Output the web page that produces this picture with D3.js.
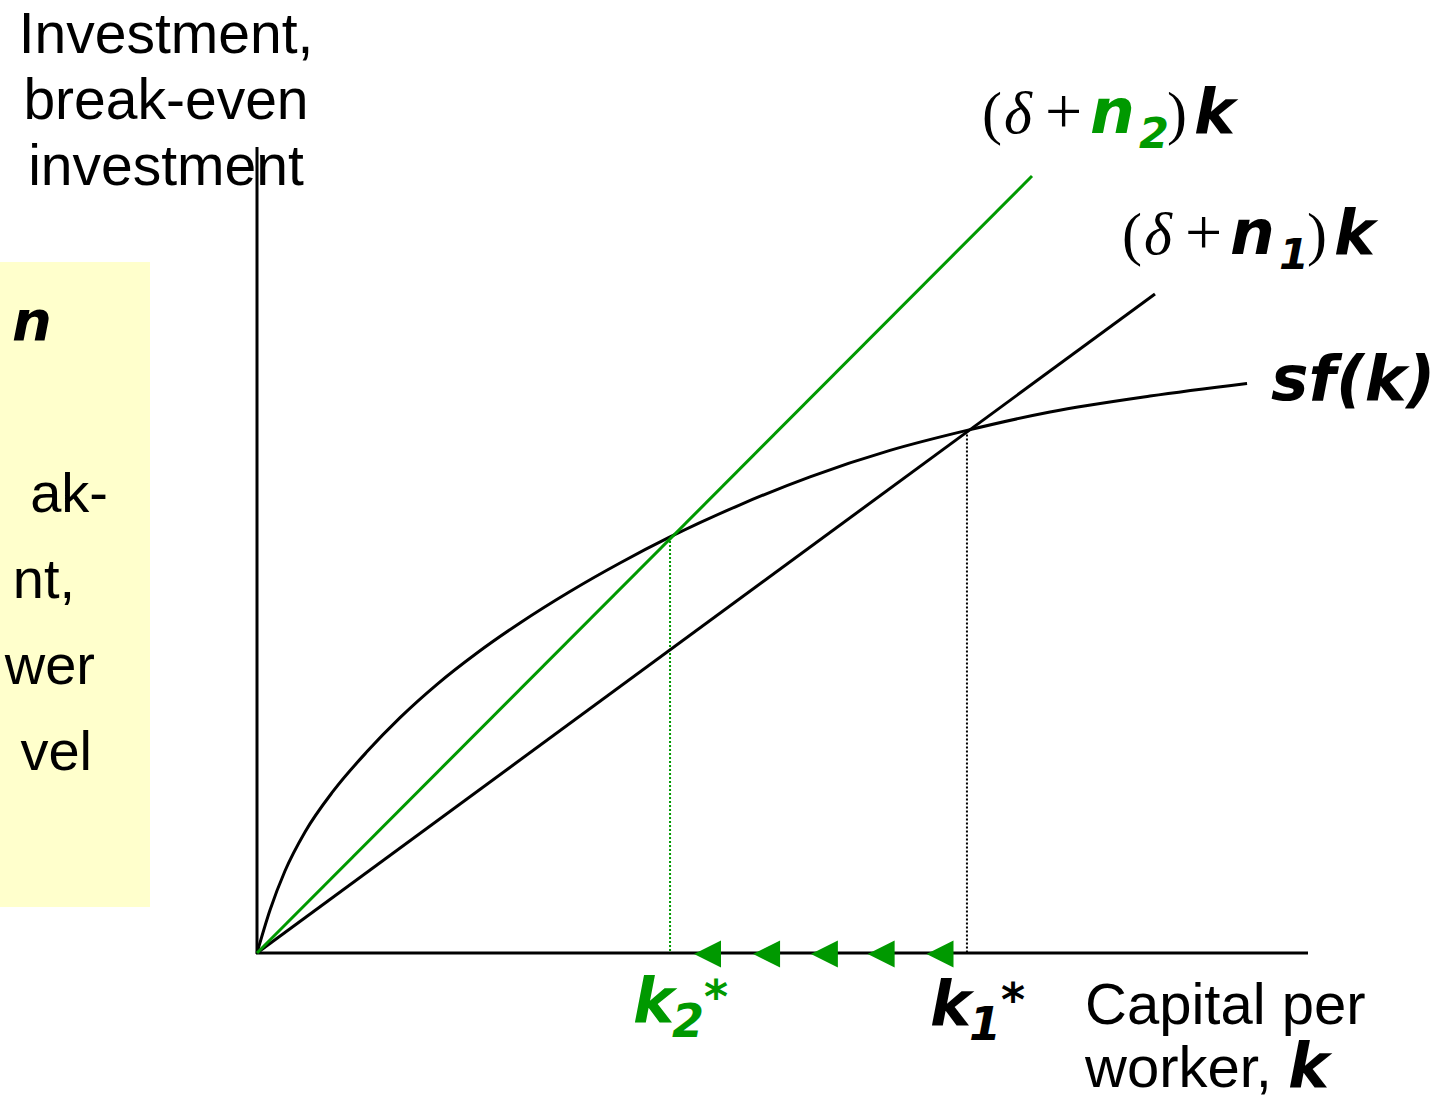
<!DOCTYPE html>
<html lang="en">
<head>
<meta charset="UTF-8"/>
<title>Solow model - increase in n</title>
<script src="https://d3js.org/d3.v7.min.js"></script>
<style>
	body{ margin:0; background:#fff; }
	text{ font-family: "Liberation Sans", Arial, sans-serif; }
	.bi{ font-family: "DejaVu Sans", Verdana, sans-serif; font-weight:bold; font-style:italic; }
	.sym{ font-family: "Liberation Serif", "Times New Roman", serif; }
</style>
</head>
<body>
<script>
// sf(k)
var sfk = [[0,0],[0.124,0.535],[0.266,1.021],[0.457,1.507],[0.723,2.012],[1.047,2.508],
	[1.361,2.931],[1.713,3.346],[2.093,3.736],[2.502,4.110],[2.978,4.502],[3.454,4.857],
	[3.930,5.181],[4.596,5.582],[5.262,5.930],[6.023,6.259],[6.755,6.508],[7.545,6.737],
	[8.497,6.936],[9.420,7.093]];
// break-even lines (start, end)
var breakEven1 = [[0,0],[8.544,8.207]];
var breakEven2 = [[0,0],[7.374,9.676]];
var kStar1 = [6.755, 6.508];
var kStar2 = [3.930, 5.181];
var arrowK = [4.158, 4.72, 5.27, 5.81, 6.37];
var boxLines = ["ak-", "nt,", "wer", "vel"];

var w = 1443, h = 1103;
var green = "#009900";

var x = d3.scaleLinear().domain([0,10]).range([257,1308]);
var y = d3.scaleLinear().domain([0,10]).range([953,150]);

var svg = d3.select("body").append("svg")
	.attr("width", w).attr("height", h);

// yellow note box (cut off at left edge)
svg.append("rect").attr("x", 0).attr("y", 262).attr("width", 150).attr("height", 645)
	.attr("fill", "#ffffcc");
svg.append("text").attr("class","bi").attr("x", 12).attr("y", 340)
	.attr("font-size", 56).text("n");
svg.selectAll(".boxline").data(boxLines).enter().append("text")
	.attr("class","boxline")
	.attr("x", function(d,i){ return [108, 75, 95, 92][i]; })
	.attr("y", function(d,i){ return 512 + i*86; })
	.attr("text-anchor","end").attr("font-size", 56)
	.text(function(d){ return d; });

// axis titles
var yt = svg.append("text").attr("text-anchor","middle").attr("font-size", 57);
["Investment,","break-even","investment"].forEach(function(s,i){
	yt.append("tspan").attr("x", 166).attr("y", 53 + i*66).text(s);
});
var xt = svg.append("text").attr("font-size", 58);
xt.append("tspan").attr("x", 1085).attr("y", 1024).text("Capital per");
xt.append("tspan").attr("x", 1085).attr("y", 1087).text("worker, ");
xt.append("tspan").attr("class","bi").attr("font-size", 62).text("k");

// dotted drop lines
svg.append("line").attr("x1", x(kStar2[0])).attr("x2", x(kStar2[0]))
	.attr("y1", y(kStar2[1])).attr("y2", y(0))
	.attr("stroke", green).attr("stroke-width", 2).attr("stroke-dasharray","2,2");
svg.append("line").attr("x1", x(kStar1[0])).attr("x2", x(kStar1[0]))
	.attr("y1", y(kStar1[1])).attr("y2", y(0))
	.attr("stroke", "#000").attr("stroke-width", 2).attr("stroke-dasharray","2,2");

// axes
svg.append("line").attr("x1", x(0)).attr("x2", x(0)).attr("y1", y(0)+1).attr("y2", y(10)-3)
	.attr("stroke","#000").attr("stroke-width",3);
svg.append("line").attr("x1", x(0)-1).attr("x2", x(10)).attr("y1", y(0)).attr("y2", y(0))
	.attr("stroke","#000").attr("stroke-width",3);

var line = d3.line().x(function(d){ return x(d[0]); }).y(function(d){ return y(d[1]); });

svg.append("path").attr("d", line.curve(d3.curveMonotoneX)(sfk))
	.attr("fill","none").attr("stroke","#000").attr("stroke-width",3);
line.curve(d3.curveLinear);
svg.append("path").attr("d", line(breakEven1))
	.attr("fill","none").attr("stroke","#000").attr("stroke-width",3);
svg.append("path").attr("d", line(breakEven2))
	.attr("fill","none").attr("stroke",green).attr("stroke-width",3);

// arrows along k axis
svg.selectAll(".arrow").data(arrowK).enter().append("path")
	.attr("class","arrow")
	.attr("d", function(d){
		var px = x(d), py = y(0) + 1;
		return "M" + px + "," + py + "L" + (px+27) + "," + (py-13.5) + "L" + (px+27) + "," + (py+13.5) + "Z";
	})
	.attr("fill", green);

// curve labels, pieces placed one by one
function beLabel(xp, yp, sub, nColor){
	var t = svg.append("text").attr("y", yp);
	t.append("tspan").attr("class","sym").attr("x", xp).attr("font-size", 60).text("(");
	t.append("tspan").attr("class","sym").attr("x", xp+22).attr("font-size", 60).attr("font-style","italic").text("\u03b4");
	t.append("tspan").attr("class","sym").attr("x", xp+63).attr("font-size", 66).text("+");
	t.append("tspan").attr("class","bi").attr("x", xp+108).attr("font-size", 63).attr("fill", nColor).text("n");
	t.append("tspan").attr("class","bi").attr("x", xp+157).attr("font-size", 43).attr("dy", 15).attr("fill", nColor).text(sub);
	t.append("tspan").attr("class","sym").attr("x", xp+185).attr("font-size", 60).attr("dy", -15).text(")");
	t.append("tspan").attr("class","bi").attr("x", xp+212).attr("font-size", 62).text("k");
}
beLabel(982, 133, "2", green);
beLabel(1122, 254, "1", "#000");

svg.append("text").attr("class","bi").attr("x", 1271).attr("y", 400)
	.attr("font-size", 63).text("sf(k)");

// steady state labels
function kLabel(xp, yp, sub, col){
	var t = svg.append("text").attr("fill", col);
	t.append("tspan").attr("class","bi").attr("x", xp).attr("y", yp).attr("font-size", 62).text("k");
	t.append("tspan").attr("class","bi").attr("x", xp+39).attr("y", yp+15).attr("font-size", 46).text(sub);
	t.append("tspan").attr("class","bi").attr("x", xp+71).attr("y", yp-9).attr("font-size", 46).text("*");
}
kLabel(633, 1022, "2", green);
kLabel(930, 1025, "1", "#000");
</script>
</body>
</html>
